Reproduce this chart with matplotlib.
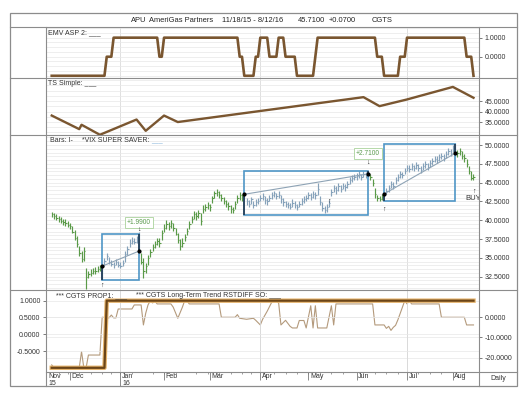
import numpy as np
import pandas as pd
import matplotlib
matplotlib.use('Agg')
import matplotlib.pyplot as plt
from matplotlib.patches import Rectangle

plt.rcParams['font.family'] = ['Liberation Sans', 'DejaVu Sans']

W, H = 529, 395
HOLIDAYS = ['2015-11-26', '2015-12-25', '2016-01-01', '2016-01-18', '2016-02-15',
            '2016-03-25', '2016-05-30', '2016-07-04']
days = pd.bdate_range('2015-11-18', '2016-08-12', freq='C', holidays=HOLIDAYS)

# daily bars
hi = [41.1, 41.0, 40.8, 40.6, 40.4, 40.2, 40.1, 39.9, 39.7,
      39.3, 38.7, 37.9, 36.6, 35.9, 36.4, 33.6,
      33.3, 33.5, 33.7, 33.8, 33.9, 34.0,
      34.1, 35.0, 35.6, 35.1, 34.7, 34.5, 34.8, 34.6, 34.4, 34.7,
      35.9, 36.6, 37.5, 37.8, 37.6, 37.9, 38.4,
      35.6, 35.0, 34.3,
      35.4, 36.2, 36.8, 37.3, 37.7, 37.6,
      38.7, 39.5, 40.0, 39.8, 40.0, 39.7,
      39.0, 38.3, 37.5, 37.6,
      38.2, 39.0, 39.9, 40.6,
      41.2, 41.1, 41.4, 40.9,
      42.0, 42.2, 42.4, 42.2,
      43.2, 43.9, 44.1,
      43.9, 43.5, 43.1, 42.7, 42.4, 42.0, 41.8,
      42.6, 43.3, 43.7, 43.5, 43.7,
      43.0, 42.7, 43.1, 42.6, 42.8, 43.0,
      43.4, 43.6, 43.2, 42.9, 43.4, 43.7, 43.9, 43.6, 43.9,
      43.3, 42.9, 42.6, 42.4, 42.3, 42.8, 42.5, 42.2, 42.6,
      42.9, 43.2, 43.4, 43.7, 43.6, 43.9, 43.8, 44.9,
      43.2, 42.4, 41.9, 42.1, 42.7,
      44.2, 44.7, 44.5, 44.9, 44.7, 45.0, 44.8, 45.2,
      45.7, 46.0, 46.2, 46.3, 46.5, 46.2, 46.5, 46.4, 46.6,
      46.2, 45.5, 44.3, 43.4, 43.2, 43.5, 43.8,
      44.3, 44.7, 45.2, 45.1, 45.7, 46.1, 46.5, 46.4,
      47.0, 47.4, 47.3, 47.6, 47.4, 47.7,
      47.5, 47.2, 47.6, 47.9, 47.6, 48.0,
      48.3, 48.6, 48.5, 48.8, 49.0, 48.8, 49.2,
      49.6, 49.5, 50.0, 50.3,
      49.3, 49.6, 49.2, 48.8,
      48.2, 47.2, 46.6, 46.2]
lo = [40.4, 40.2, 40.0, 39.8, 39.6, 39.4, 39.3, 39.1, 38.9,
      38.3, 37.4, 36.4, 35.3, 34.4, 34.6, 30.9,
      32.3, 32.6, 32.9, 32.9, 33.1, 33.3,
      32.0, 34.1, 34.7, 34.2, 33.9, 33.6, 34.0, 33.8, 33.6, 33.9,
      34.4, 35.4, 36.5, 36.9, 36.8, 37.0, 35.8,
      34.2, 32.3, 33.0,
      34.0, 35.1, 35.9, 36.3, 36.7, 36.5,
      37.4, 38.4, 38.9, 38.7, 39.0, 38.6,
      38.0, 37.0, 36.0, 36.4,
      37.2, 38.0, 38.9, 39.7,
      40.2, 40.0, 40.3, 39.4,
      40.9, 41.2, 41.5, 41.2,
      42.3, 43.0, 43.2,
      43.0, 42.6, 42.2, 41.8, 41.4, 41.0, 40.9,
      41.5, 42.3, 42.7, 42.6, 42.8,
      42.0, 41.8, 42.1, 41.6, 41.9, 42.1,
      42.5, 42.7, 42.2, 42.0, 42.5, 42.8, 43.1, 42.8, 42.9,
      42.3, 41.9, 41.7, 41.6, 41.5, 41.7, 41.6, 41.3, 41.7,
      42.0, 42.3, 42.5, 42.8, 42.7, 43.0, 42.8, 43.4,
      42.0, 41.2, 40.9, 41.1, 41.7,
      43.2, 43.8, 43.5, 43.9, 43.7, 44.1, 43.9, 44.3,
      44.8, 45.1, 45.3, 45.4, 45.6, 45.3, 45.7, 45.6, 45.7,
      45.3, 44.6, 42.9, 42.6, 42.5, 42.7, 43.1,
      43.5, 43.8, 44.3, 44.1, 44.8, 45.2, 45.6, 45.6,
      46.1, 46.5, 46.4, 46.7, 46.5, 46.8,
      46.6, 46.3, 46.7, 47.0, 46.7, 47.1,
      47.4, 47.7, 47.6, 47.9, 48.2, 47.9, 48.3,
      48.7, 48.6, 49.1, 48.6,
      48.4, 48.7, 48.1, 47.8,
      47.1, 46.1, 45.3, 45.4]
cl = [40.8, 40.6, 40.3, 40.2, 39.9, 39.8, 39.6, 39.4, 39.2,
      38.5, 37.7, 36.8, 35.6, 34.8, 35.9, 32.4,
      32.8, 33.0, 33.3, 33.2, 33.5, 33.6,
      33.9, 34.6, 35.2, 34.5, 34.2, 34.0, 34.4, 34.1, 33.9, 34.3,
      35.5, 36.2, 37.0, 37.3, 37.1, 37.5, 35.89,
      34.5, 33.2, 33.9,
      35.0, 35.8, 36.4, 36.8, 37.2, 37.0,
      38.3, 39.0, 39.5, 39.2, 39.6, 39.0,
      38.2, 37.4, 36.6, 37.0,
      37.8, 38.6, 39.5, 40.2,
      40.8, 40.5, 41.0, 39.9,
      41.5, 41.8, 42.0, 41.7,
      42.9, 43.6, 43.8,
      43.4, 43.0, 42.6, 42.2, 41.9, 41.5, 41.3,
      42.2, 42.9, 43.3, 43.0, 43.45,
      42.5, 42.2, 42.8, 42.0, 42.4, 42.6,
      43.0, 43.2, 42.7, 42.5, 43.0, 43.3, 43.6, 43.2, 43.4,
      42.8, 42.4, 42.1, 42.0, 41.8, 42.3, 42.0, 41.7, 42.2,
      42.5, 42.8, 43.0, 43.3, 43.1, 43.5, 43.3, 44.2,
      42.4, 41.6, 41.4, 41.7, 42.3,
      43.8, 44.3, 44.0, 44.5, 44.2, 44.6, 44.4, 44.8,
      45.3, 45.6, 45.8, 45.9, 46.1, 45.8, 46.2, 46.0, 46.16,
      45.7, 45.0, 43.5, 42.9, 42.8, 43.1, 43.5,
      43.9, 44.3, 44.8, 44.6, 45.3, 45.7, 46.1, 46.0,
      46.6, 47.0, 46.8, 47.2, 46.9, 47.3,
      47.0, 46.7, 47.2, 47.5, 47.1, 47.6,
      47.9, 48.2, 48.0, 48.4, 48.6, 48.3, 48.8,
      49.2, 49.0, 49.6, 48.9,
      48.9, 49.2, 48.6, 48.3,
      47.5, 46.5, 45.64, 45.71]

# EMV ASP 2 as (value, number of days)
emv_runs = [(-1, 24), (0, 3), (1, 20), (0, 2), (1, 33), (0, 2), (-1, 5), (0, 2), (1, 4), (0, 4),
            (1, 3), (0, 5), (-1, 8), (0, 1), (1, 26), (0, 3), (-1, 7), (0, 3), (1, 26), (0, 3), (-1, 1)]
# TS Simple vertices (day index, value)
ts_x = [0, 12, 13, 21, 37, 41, 49, 55, 136, 143, 155, 175, 184]
ts_v = [38.1, 31.6, 33.7, 28.9, 36.2, 30.8, 38.1, 35.0, 46.9, 42.6, 45.8, 51.8, 46.6]
# CGTS PROP1
prop_runs = [(-1, 24), (1, 161)]
# Long-Term Trend RSTDIFF SO vertices
rst_x = [0, 1, 12, 13, 14, 15, 16, 21, 22, 25, 26, 27, 28, 29, 35, 36, 39, 40, 41, 42, 43, 44, 45, 46, 52, 53,
         55, 57, 58, 59, 60, 73, 74, 80, 81, 82, 85, 88, 89, 91, 92, 94, 96, 98, 99, 100, 102, 104, 105, 107,
         108, 110, 111, 113, 114, 115, 116, 117, 120, 122, 123, 124, 140, 141, 145, 146, 147, 148, 149, 150,
         151, 153, 154, 155, 156, 157, 158, 169, 170, 180, 181, 184]
rst_v = [-23.6, -25.0, -25.0, -17.0, -25.0, -25.0, -18.7, -18.7, 0.0, -0.3, 1.1, -0.3, -0.3, 4.1, 4.1, 6.1,
         6.1, -3.8, 2.0, 6.1, 8.2, 7.1, 8.0, 6.6, 6.6, 5.0, -0.5, 5.0, 8.2, 8.2, 6.6, 6.6, 0.0, 0.0, 1.3, -0.5,
         -1.0, -0.5, -1.5, -3.8, -1.0, 3.0, 7.5, 8.2, 7.0, -3.8, -1.5, -4.5, -5.3, -5.3, -1.6, -1.6, -5.3, 5.7,
         -5.3, 5.7, -5.3, -5.3, -5.3, 5.7, -3.8, 6.6, 6.6, -3.8, -3.8, -5.5, -4.5, -6.5, -5.0, -4.0, -1.3, 5.0,
         8.2, 6.6, 8.2, 6.6, 6.6, 6.6, 0.0, 0.0, -3.8, -3.8]

# VIX SUPER SAVER trades
tr_in = [22, 84, 145]
tr_out = [38, 138, 176]
tr_pin = [33.9, 43.45, 43.5]
tr_pout = [35.89, 46.16, 48.9]
box_lo = [32.1, 40.7, 42.55]
box_hi = [38.2, 46.58, 50.13]
gain_lbl = ['+1.9900', '+2.7100', None]
up_x = [22, 121, 145, 184]
up_y = [31.8, 43.0, 41.9, 44.3]

n = len(days)
assert len(hi) == len(lo) == len(cl) == n and len(rst_x) == len(rst_v)
idx = np.arange(n)
emv = np.repeat([v for v, k in emv_runs], [k for v, k in emv_runs])
prop = np.repeat([v for v, k in prop_runs], [k for v, k in prop_runs])

fig = plt.figure(figsize=(W / 100, H / 100), dpi=100)
def pax(x0, y0, x1, y1):
    return fig.add_axes([x0 / W, 1 - y1 / H, (x1 - x0) / W, (y1 - y0) / H])

L, R, RO = 46, 479, 517
XL = (-2.5, 186.4)
mstart = [i for i in range(1, n) if days[i].month != days[i - 1].month]
qtr = [i for i in mstart if days[i].month in (1, 4, 7)]
GRID = '#e8e8e8'

def prep(ax, ylim, ticks, minor):
    ax.set_xlim(*XL); ax.set_ylim(*ylim); ax.set_xticks([])
    for s in ax.spines.values(): s.set_visible(False)
    ax.yaxis.tick_right()
    ax.set_yticks(ticks); ax.set_yticklabels([f'{t:.4f}' for t in ticks])
    ax.set_yticks(minor, minor=True)
    ax.tick_params(axis='y', which='major', length=2.5, width=0.6, color='#666', pad=1.5, labelsize=5, labelcolor='#333')
    ax.tick_params(axis='y', which='minor', length=0)
    ax.grid(axis='y', which='both', color=GRID, lw=0.5)
    ax.set_axisbelow(True)
    ax.patch.set_alpha(0)
    for q in qtr: ax.axvline(q, color='#dadada', lw=0.6, zorder=0)

BROWN = '#7a5630'
ex = pax(L, 27, R, 77.5)
prep(ex, (-1.09, 1.56), [0, 1], np.arange(-1, 1.6, 0.25))
ex.plot(idx, emv, color=BROWN, lw=1.9)

tx = pax(L, 77.5, R, 135)
prep(tx, (28.8, 56.3), [35, 40, 45], np.arange(30, 56, 2.5))
tx.plot(ts_x, ts_v, color=BROWN, lw=1.7)

bx = pax(L, 135, R, 290)
prep(bx, (30.73, 51.33), list(np.arange(32.5, 50.1, 2.5)), np.arange(31, 51.3, 0.5))
inside = [any(a <= i <= b for a, b in zip(tr_in, tr_out)) for i in idx]
cols = ['#86a2ba' if f else '#5a9a48' for f in inside]
bx.vlines(idx, lo, hi, colors=cols, lw=0.85)
bx.hlines(cl, idx, idx + 0.6, colors=cols, lw=0.8)
lbl_y = [39.7, 48.85]
arr_y = [38.75, 47.65]
for k in range(len(tr_in)):
    a, b = tr_in[k], tr_out[k]
    bx.add_patch(Rectangle((a, box_lo[k]), b - a, box_hi[k] - box_lo[k], fill=False, ec='#4f96c6', lw=1.2, zorder=3))
    bx.plot([a, b], [tr_pin[k], tr_pout[k]], color='#8ea3b5', lw=0.8, zorder=3)
    bx.vlines([a, b], [box_lo[k], tr_pout[k]], [tr_pin[k], box_hi[k]], color='#1d2f45', lw=1.1, zorder=4)
    bx.plot([a, b], [tr_pin[k], tr_pout[k]], 'o', color='k', ms=2, zorder=5)
    if gain_lbl[k]:
        bx.text(b, lbl_y[k], gain_lbl[k], ha='center', va='center', fontsize=4.8, color='#5b9a4f', zorder=6,
                bbox=dict(boxstyle='square,pad=0.25', fc='white', ec='#a9d29b', lw=0.6))
        bx.text(b, arr_y[k], '↓', ha='center', va='center', fontsize=5, color='#222', zorder=6)
for x, y in zip(up_x, up_y):
    bx.text(x, y, '↑', ha='center', va='top', fontsize=5, color='#222', zorder=6, clip_on=True)
bx.text(up_x[-1], up_y[-1] - 1.0, 'BUY', ha='center', va='top', fontsize=5.5, color='#333', zorder=6, clip_on=False)

lx = pax(L, 290, R, 372)
rx = lx.twinx()
prep(rx, (-27.1, 13.5), [-20, -10, 0], [-20, -10, 0])
prep(lx, (-1.125, 1.318), [-0.5, 0, 0.5, 1.0], [-0.5, 0, 0.5, 1.0])
lx.yaxis.tick_left()
lx.set_zorder(rx.get_zorder() + 1)
rx.plot(rst_x, rst_v, color='#b49a7c', lw=0.8)
lx.plot(idx, prop, color='#e6b46c', lw=3.2)
lx.plot(idx, prop, color='#6b4518', lw=1.6)

dx = pax(L, 372, R, 386)
dx.set_xlim(*XL); dx.set_ylim(1, 0); dx.axis('off')
mondays = [i for i in range(n) if days[i].weekday() == 0]
dx.vlines(mondays, 0, 0.12, color='#777', lw=0.5)
dx.text(XL[0] + 0.9, 0.3, 'Nov', fontsize=5, va='center', color='#333')
dx.text(XL[0] + 0.9, 0.8, '15', fontsize=5, va='center', color='#333')
for i in mstart:
    dx.vlines(i, 0, 1 if days[i].month == 1 else 0.58, color='#777', lw=0.6)
    dx.text(i + 0.7, 0.3, days[i].strftime('%b'), fontsize=5, va='center', color='#333')
    if days[i].month == 1:
        dx.text(i + 0.7, 0.8, days[i].strftime('%y'), fontsize=5, va='center', color='#333')

ov = fig.add_axes([0, 0, 1, 1], zorder=10)
ov.set_xlim(0, W); ov.set_ylim(H, 0); ov.axis('off'); ov.patch.set_alpha(0)
FC = '#8c8c8c'
ov.add_patch(Rectangle((10, 13), RO - 10, 373, fill=False, ec=FC, lw=0.9))
for y in [27, 77.5, 135, 290]:
    ov.plot([10, RO], [y, y], color=FC, lw=0.8)
ov.plot([L, RO], [372, 372], color=FC, lw=0.8)
ov.plot([L, L], [27, 386], color=FC, lw=0.8)
ov.plot([R, R], [27, 386], color=FC, lw=0.8)

for s, x in [('APU', 131), ('AmeriGas Partners', 148.6), ('11/18/15 - 8/12/16', 222.4),
             ('45.7100', 298.2), ('+0.0700', 328.6), ('CGTS', 372)]:
    ov.text(x, 20.5, s, fontsize=5.4, va='center', color='#222')
ov.text(48.5, 33, 'EMV ASP 2: ___', fontsize=5, va='center', color='#333')
ov.text(48.5, 83.5, 'TS Simple: ___', fontsize=5, va='center', color='#333')
ov.text(50.5, 140.5, 'Bars: I-', fontsize=5, va='center', color='#333')
ov.text(82, 140.5, '*VIX SUPER SAVER:', fontsize=5, va='center', color='#333')
ov.text(151, 140.5, '___', fontsize=5, va='center', color='#7fb0d8')
ov.text(56, 295.5, '*** CGTS PROP1: ___', fontsize=5, va='center', color='#333')
ov.text(136, 295.5, '*** CGTS Long-Term Trend RSTDIFF SO: ___', fontsize=5, va='center', color='#333')
ov.text((R + RO) / 2, 379, 'Daily', fontsize=5, ha='center', va='center', color='#333')

fig.savefig('out.png', dpi=100)
